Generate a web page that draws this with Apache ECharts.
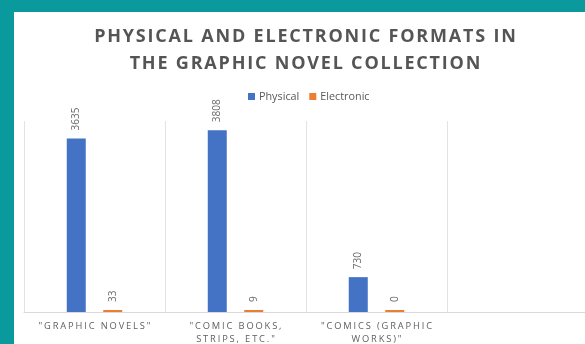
<!DOCTYPE html>
<html>
<head>
<meta charset="utf-8">
<script src="https://cdn.jsdelivr.net/npm/echarts@6/dist/echarts.min.js"></script>
<style>
  html, body { margin: 0; padding: 0; background: #0A999C; }
  #chart { width: 585px; height: 344px; }
</style>
</head>
<body>
<div id="chart"></div>
<script>
// Holdings by subject heading, physical vs. electronic
const categories = ['"GRAPHIC NOVELS"', '"COMIC BOOKS,\nSTRIPS, ETC."', '"COMICS (GRAPHIC\nWORKS)"', ''];
const physical = [3635, 3808, 730, null];
const electronic = [33, 9, 0, null];
const seriesNames = ['Physical', 'Electronic'];

// widen tracking by putting hair spaces between letters
const spaced = (s, n) => s.split('\n').map(l => Array.from(l).join('\u200A'.repeat(n))).join('\n');

const chart = echarts.init(document.getElementById('chart'), null, { renderer: 'canvas' });

const labelStyle = {
  show: true,
  position: 'top',
  rotate: 90,
  align: 'left',
  verticalAlign: 'middle',
  distance: 8,
  color: '#6b6b6b',
  fontSize: 10,
  fontFamily: 'Open Sans'
};

chart.setOption({
  backgroundColor: '#0A999C',
  animation: false,
  graphic: [{
    type: 'rect',
    shape: { x: 14, y: 12, width: 600, height: 340 },
    style: { fill: '#ffffff' },
    z: -10
  }],
  title: {
    text: spaced('PHYSICAL AND ELECTRONIC FORMATS IN\nTHE GRAPHIC NOVEL COLLECTION', 1),
    left: 300,
    textAlign: 'center',
    top: 18,
    textStyle: {
      fontFamily: 'Open Sans',
      fontWeight: 'bold',
      fontSize: 18,
      lineHeight: 27,
      color: '#555555'
    }
  },
  legend: {
    data: seriesNames,
    left: 243,
    top: 86,
    itemWidth: 7,
    itemHeight: 7,
    itemGap: 10,
    icon: 'rect',
    textStyle: { fontFamily: 'Open Sans', fontSize: 10.8, color: '#595959', padding: [0, 0, 0, -1] }
  },
  grid: { left: 24, top: 121, width: 564, height: 191, outerBoundsMode: 'none', containLabel: false },
  xAxis: {
    type: 'category',
    data: categories,
    axisTick: { show: false },
    axisLine: { lineStyle: { color: '#d9d9d9', width: 1 } },
    splitLine: { show: true, lineStyle: { color: '#e3e3e3', width: 1 } },
    axisLabel: {
      interval: 0,
      margin: 8,
      color: '#606060',
      fontFamily: 'Open Sans',
      fontSize: 9.3,
      lineHeight: 13,
      formatter: v => spaced(v, 2)
    }
  },
  yAxis: {
    type: 'value',
    min: 0,
    max: 4000,
    show: false,
    splitLine: { show: false }
  },
  series: [
    {
      name: seriesNames[0],
      type: 'bar',
      data: physical,
      barWidth: 19,
      barGap: '92%',
      itemStyle: { color: '#4472C4' },
      label: labelStyle
    },
    {
      name: seriesNames[1],
      type: 'bar',
      data: electronic,
      barWidth: 19,
      barGap: '92%',
      barMinHeight: 2,
      itemStyle: { color: '#ED7D31' },
      label: labelStyle
    }
  ]
});
</script>
</body>
</html>
